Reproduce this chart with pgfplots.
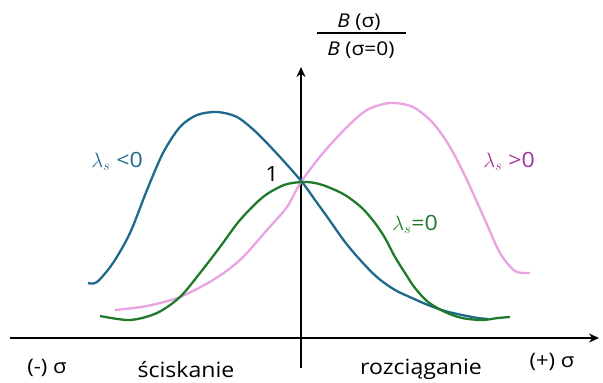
\documentclass[border=0pt]{standalone}
\usepackage{pgfplots}
\pgfplotsset{compat=1.18}
\usepackage{fontspec}
\setmainfont{Open Sans}[FakeStretch=1.1]
\usetikzlibrary{arrows.meta}

\definecolor{negblue}{HTML}{1F6A8A}
\definecolor{poscurve}{HTML}{E9A3E2}
\definecolor{postext}{HTML}{A0329A}
\definecolor{zerogreen}{HTML}{217A2C}

\newcommand{\fs}[1]{\fontsize{#1}{#1}\selectfont}
\pgfplotsset{
  curve/.style={line width=2.3pt, smooth, tension=0.5, no markers},
}
\tikzset{
  lbl/.style={anchor=base, inner sep=0pt},
}

\begin{document}
\begin{tikzpicture}
\begin{axis}[
  at={(0,0)}, anchor=south west,
  width=603pt, height=383pt, scale only axis,
  xmin=0, xmax=603, ymin=0, ymax=383,
  y dir=reverse,
  hide axis, clip=false,
]
% coordinate axes
\addplot[black, line width=1.9pt, -{Stealth[length=10pt,width=9pt]}, sharp plot, no markers]
  coordinates {(10,338) (599,338)};
\addplot[black, line width=1.9pt, -{Stealth[length=10pt,width=9pt]}, sharp plot, no markers]
  coordinates {(301,368) (301,67)};

% lambda_s > 0
\addplot[curve, poscurve] coordinates {
  (115,310) (147,306) (180,297) (213,280) (240,260) (267,230) (287,207)
  (301,182) (323,153) (347,127) (367,110) (390,103) (413,107) (433,123)
  (450,147) (467,180) (485,220) (500,253) (515,271) (530,273)};

% lambda_s < 0
\addplot[curve, negblue] coordinates {
  (88,283) (97,282) (113,263) (130,233) (147,190) (163,153) (180,127)
  (197,115) (217,112) (237,117) (257,133) (280,157) (302,182)
  (315,200) (328,218) (345,242) (362,262) (378,278) (395,290) (412,298)
  (428,305) (445,311) (462,315) (478,318) (488,319)};

% lambda_s = 0
\addplot[curve, zerogreen] coordinates {
  (100,316) (130,320) (157,313) (180,297) (200,273) (220,247) (240,220)
  (263,197) (284,185) (302,182) (315,183) (328,187) (345,195) (362,208)
  (375,223) (385,238) (395,257) (405,273) (415,288) (428,302) (445,312)
  (462,318) (482,320) (498,318) (510,317)};

% curve labels
\node[lbl, font=\fs{21}, text=negblue] at (axis cs:117,167) {$\lambda_s$ <0};
\node[lbl, font=\fs{21}, text=postext] at (axis cs:509,167) {$\lambda_s$ >0};
\node[lbl, font=\fs{21}, text=zerogreen] at (axis cs:415,230) {$\lambda_s$=0};
\node[lbl, font=\fs{21}] at (axis cs:272,181) {1};

% ordinate label as a ratio
\node[lbl, font=\fs{19}] at (axis cs:359,27) {\textit{B} (σ)};
\node[lbl, font=\fs{19}] at (axis cs:361,55) {\textit{B} (σ=0)};
\draw[black, line width=1.3pt] (axis cs:317,33) -- (axis cs:406,33);

% abscissa annotations
\node[lbl, font=\fs{20}] at (axis cs:47,373) {(-) σ};
\node[lbl, font=\fs{21}] at (axis cs:186,377) {ściskanie};
\node[lbl, font=\fs{21}] at (axis cs:421,374) {rozciąganie};
\node[lbl, font=\fs{20}] at (axis cs:552,367) {(+) σ};
\end{axis}
\pgfresetboundingbox
\path (0,0) rectangle (603pt,383pt);
\end{tikzpicture}
\end{document}
